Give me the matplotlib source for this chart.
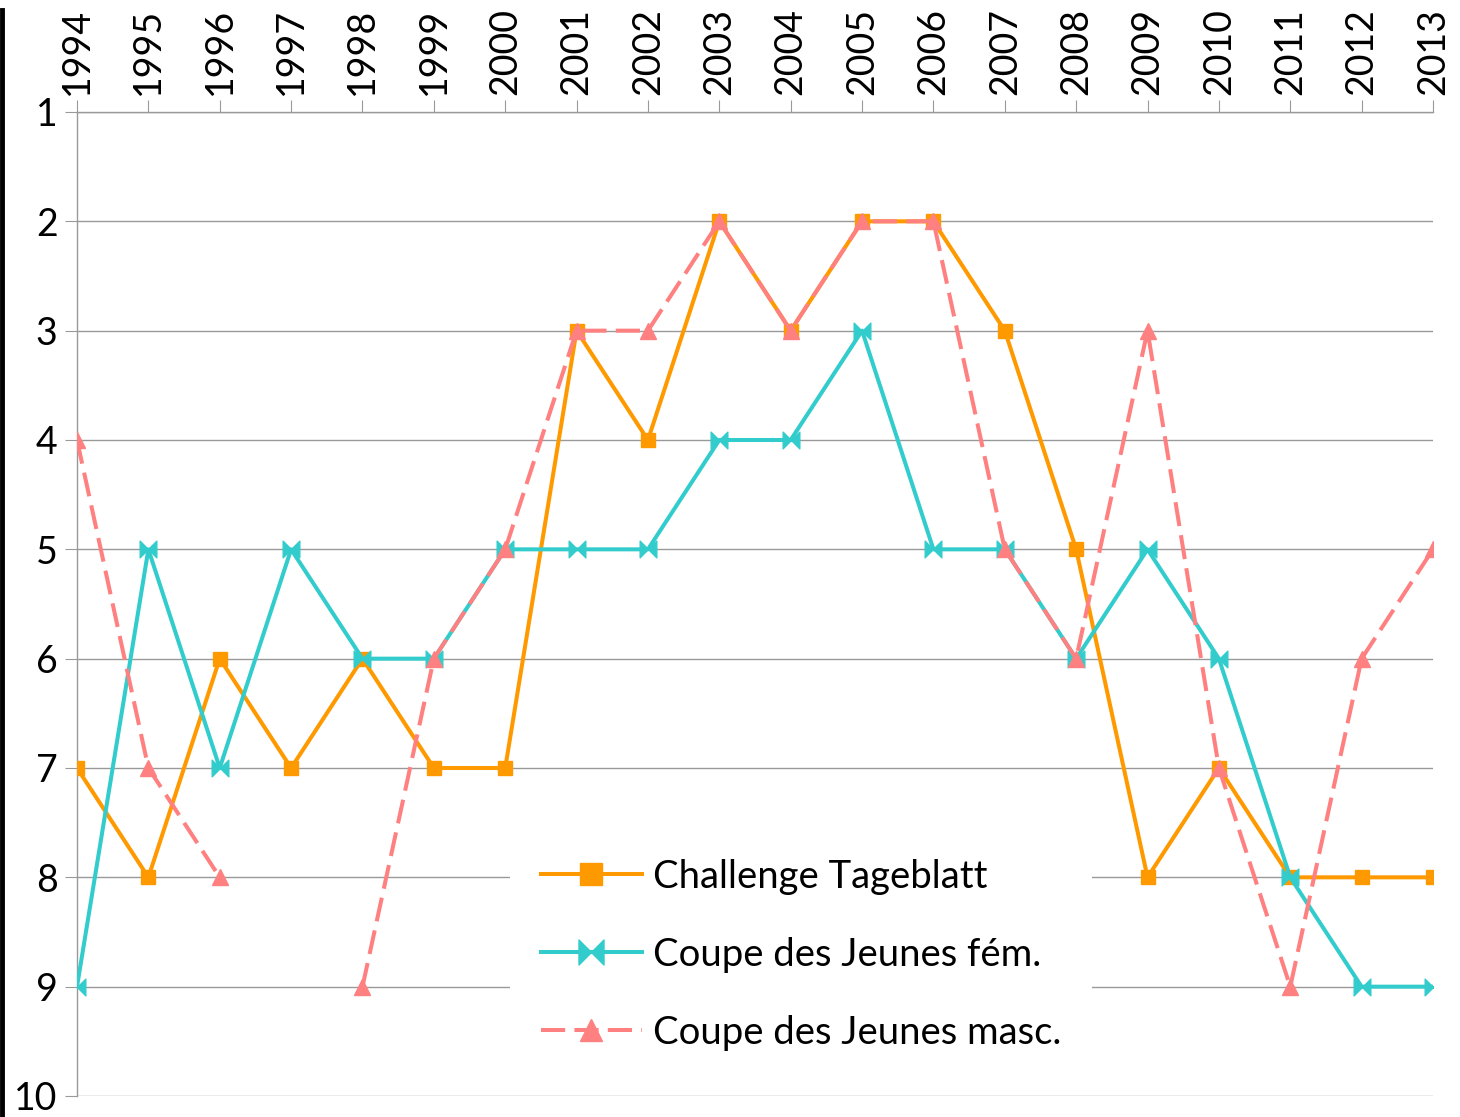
import numpy as np
import matplotlib
matplotlib.use("Agg")
import matplotlib.pyplot as plt
from matplotlib.path import Path
from matplotlib.lines import Line2D

years = list(range(1994, 2014))
challenge = [7, 8, 6, 7, 6, 7, 7, 3, 4, 2, 3, 2, 2, 3, 5, 8, 7, 8, 8, 8]
fem = [9, 5, 7, 5, 6, 6, 5, 5, 5, 4, 4, 3, 5, 5, 6, 5, 6, 8, 9, 9]
masc = [4, 7, 8, np.nan, 9, 6, 5, 3, 3, 2, 3, 2, 2, 5, 6, 3, 7, 9, 6, 5]
labels = ["Challenge Tageblatt", "Coupe des Jeunes fém.", "Coupe des Jeunes masc."]
yticks = list(range(1, 11))

plt.rcParams['font.family'] = ['Lato', 'DejaVu Sans']

fig = plt.figure(figsize=(14.6, 11.17), dpi=100)
ax = fig.add_axes([77/1460, 1-1096/1117, (1433-77)/1460, (1096-112)/1117])

bowtie = Path([(-1, -1), (0, 0), (-1, 1), (-1, -1), (1, -1), (0, 0), (1, 1), (1, -1)],
              [Path.MOVETO, Path.LINETO, Path.LINETO, Path.CLOSEPOLY,
               Path.MOVETO, Path.LINETO, Path.LINETO, Path.CLOSEPOLY])

orange = '#FF9900'
teal = '#33CCCC'
pink = '#FF8080'

ax.plot(years, challenge, color=orange, lw=2.9, marker='s', ms=10.5, label=labels[0], zorder=3)
ax.plot(years, fem, color=teal, lw=2.9, marker=bowtie, ms=12, label=labels[1], zorder=3)
ax.plot(years, masc, color=pink, lw=2.9, marker='^', ms=11, ls=(0, (6, 2.3)), label=labels[2], zorder=3)

ax.set_xlim(1994, 2013)
ax.set_ylim(10, 1)
ax.set_yticks(yticks)
ax.set_xticks(years)
ax.xaxis.tick_top()
ax.tick_params(axis='x', labelrotation=90, labelsize=27, length=9, color='#999999', pad=3)
ax.tick_params(axis='y', labelsize=27, length=9, color='#999999', pad=5)
ax.grid(axis='y', color='#999999', lw=1)
for s in ['right', 'bottom']:
    ax.spines[s].set_visible(False)
for s in ['left', 'top']:
    ax.spines[s].set_color('#999999')
    ax.spines[s].set_linewidth(1)

leg = ax.legend(loc='upper left', bbox_to_anchor=(510/1460, 1-828/1117), bbox_transform=fig.transFigure,
                fontsize=27.5, frameon=True, facecolor='white', edgecolor='none', framealpha=1,
                handlelength=2.65, labelspacing=1.1, borderpad=0.8, handletextpad=0.3, borderaxespad=0,
                markerscale=1.5)
leg.get_frame().set_boxstyle('square', pad=0)

fig.add_artist(Line2D([2/1460, 2/1460], [0, 1-10/1117], transform=fig.transFigure, color='black', lw=3.5))

fig.savefig('out.png', dpi=100)
